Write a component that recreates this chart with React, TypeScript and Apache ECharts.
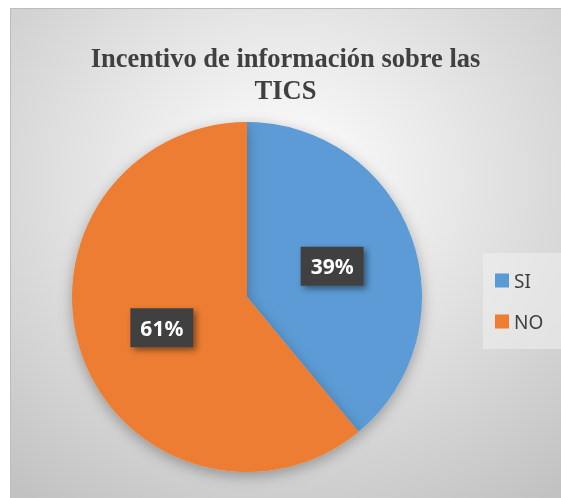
import React, { useEffect, useRef } from "react";
import * as echarts from "echarts";

const titleLines = ["Incentivo de información sobre las", "TICS"];
const categories = ["SI", "NO"];
const values = [39, 61];
const colors = ["#5B9BD5", "#ED7D31"];

export default function App() {
  const ref = useRef<HTMLDivElement>(null);
  useEffect(() => {
    if (!ref.current) return;
    const chart = echarts.init(ref.current, null, { renderer: "svg" });
    chart.setOption({
      animation: false,
      backgroundColor: {
        type: "radial",
        x: 0.5,
        y: 0.35,
        r: 0.8,
        colorStops: [
          { offset: 0, color: "#ffffff" },
          { offset: 1, color: "#c2c2c2" },
        ],
      },
      graphic: [
        {
          type: "rect",
          shape: { x: 0.5, y: 0.5, width: 560, height: 500 },
          style: { fill: "none", stroke: "#bdbdbd", lineWidth: 1 },
          silent: true,
        },
      ],
      title: {
        text: titleLines.join("\n"),
        left: "center",
        top: 29,
        textStyle: {
          fontFamily: "Liberation Serif",
          fontWeight: "bold",
          fontSize: 26.5,
          lineHeight: 32,
          color: "#404040",
        },
      },
      legend: {
        orient: "vertical",
        left: 473,
        top: 245,
        width: 90,
        padding: [18, 40, 18, 12],
        backgroundColor: "rgba(240,240,240,0.55)",
        itemWidth: 14,
        itemHeight: 14,
        itemGap: 22,
        icon: "rect",
        data: categories,
        textStyle: {
          fontFamily: "Noto Sans",
          fontSize: 19,
          color: "#404040",
          padding: [0, 0, 0, 0],
        },
      },
      series: [
        {
          type: "pie",
          center: [237, 289],
          radius: 175,
          startAngle: 90,
          clockwise: true,
          data: categories.map((c, i) => ({
            name: c,
            value: values[i],
            itemStyle: { color: colors[i] },
          })),
          itemStyle: {
            shadowBlur: 14,
            shadowColor: "rgba(0,0,0,0.3)",
            shadowOffsetY: 4,
          },
          label: {
            show: true,
            position: "inside",
            formatter: "{d}%",
            color: "#ffffff",
            fontFamily: "Noto Sans",
            fontWeight: "bold",
            fontSize: 21,
            backgroundColor: "#404040",
            padding: [10, 10, 8, 10],
            shadowColor: "rgba(0,0,0,0.45)",
            shadowBlur: 6,
            shadowOffsetX: 3,
            shadowOffsetY: 3,
          },
          labelLine: { show: false },
          emphasis: { disabled: true },
        },
      ],
    });
    return () => chart.dispose();
  }, []);
  return (
    <div
      ref={ref}
      style={{ position: "fixed", left: 10, top: 8, width: 551, height: 490 }}
    />
  );
}
